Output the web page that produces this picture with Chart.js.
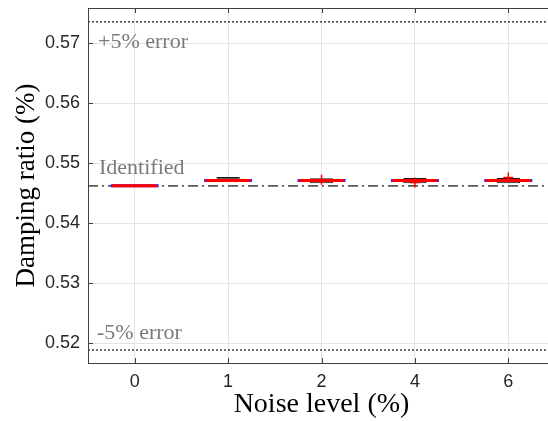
<!DOCTYPE html>
<html>
<head>
<meta charset="utf-8">
<script src="https://cdn.jsdelivr.net/npm/chart.js@4/dist/chart.umd.min.js"></script>
<style>
html,body{margin:0;padding:0;overflow:hidden;background:#fff;}
canvas{display:block;}
</style>
</head>
<body>
<canvas id="c" width="558" height="421"></canvas>
<script>
// ---- data ----
const categories = ['0', '1', '2', '4', '6'];
const medians    = [0.54625, 0.54712, 0.54712, 0.54712, 0.54712];
const whiskerLow  = [null, 0.54705, 0.54667, 0.54667, 0.54667];
const whiskerHigh = [null, 0.54772, 0.54750, 0.54752, 0.54752];
const outliers = [
  {x: '2', y: 0.54725},
  {x: '4', y: 0.54678},
  {x: '6', y: 0.54762}
];
const identified = 0.54622;
const upperError = 0.57353;
const lowerError = 0.51891;
const yTicks = [0.52, 0.53, 0.54, 0.55, 0.56, 0.57];
const refLabels = ['+5% error', 'Identified', '-5% error'];
const xTitle = 'Noise level (%)';
const yTitle = 'Damping ratio (%)';

const whiskerRanges = whiskerLow.map((lo, i) => lo === null ? null : [lo, whiskerHigh[i]]);
const refLine = v => [{x: 0, y: v}, {x: 1, y: v}];

const framePlugin = {
  id: 'frame',
  afterDatasetsDraw(chart) {
    const {ctx, chartArea: a, scales: {x, y}} = chart;
    ctx.save();
    ctx.strokeStyle = '#404040';
    ctx.lineWidth = 1;
    ctx.strokeRect(a.left + 0.5, a.top + 0.5, a.right - a.left, a.bottom - a.top);
    const seg = (x1, y1, x2, y2) => { ctx.beginPath(); ctx.moveTo(x1, y1); ctx.lineTo(x2, y2); ctx.stroke(); };
    y.ticks.forEach((t, i) => {
      const py = Math.round(y.getPixelForTick(i)) + 0.5;
      seg(a.left, py, a.left + 5, py);
      seg(a.right, py, a.right - 5, py);
    });
    x.ticks.forEach((t, i) => {
      const px = Math.round(x.getPixelForTick(i)) + 0.5;
      seg(px, a.bottom, px, a.bottom - 5);
      seg(px, a.top, px, a.top + 5);
    });
    ctx.font = '22px "Liberation Serif"';
    ctx.fillStyle = '#7a7a7a';
    ctx.textAlign = 'left';
    ctx.textBaseline = 'alphabetic';
    ctx.fillText(refLabels[0], a.left + 10, y.getPixelForValue(upperError) + 26);
    ctx.fillText(refLabels[1], a.left + 11, y.getPixelForValue(identified) - 12);
    ctx.fillText(refLabels[2], a.left + 9, y.getPixelForValue(lowerError) - 11);
    ctx.restore();
  }
};

new Chart(document.getElementById('c'), {
  type: 'bar',
  data: {
    labels: categories,
    datasets: [
      {
        type: 'line', label: '+5%', xAxisID: 'x2', data: refLine(upperError),
        borderColor: '#404040', borderWidth: 1.5, borderDash: [2, 2], pointRadius: 0, order: 10
      },
      {
        type: 'line', label: '-5%', xAxisID: 'x2', data: refLine(lowerError),
        borderColor: '#404040', borderWidth: 1.5, borderDash: [2, 2], pointRadius: 0, order: 10
      },
      {
        type: 'line', label: 'Identified', xAxisID: 'x2', data: refLine(identified),
        borderColor: '#5a5a5a', borderWidth: 1.6, borderDash: [10, 4, 2, 4], pointRadius: 0, order: 10
      },
      {
        type: 'bar', label: 'whiskers', data: whiskerRanges, grouped: false,
        backgroundColor: '#5c5c5c', borderColor: '#1a1a1a', borderWidth: 1,
        barPercentage: 0.25, categoryPercentage: 1, borderSkipped: false, order: 6
      },
      {
        type: 'line', label: 'box', data: medians, showLine: false,
        pointStyle: 'line', pointRadius: 24, pointBorderColor: '#2a2aff', pointBorderWidth: 3, order: 4
      },
      {
        type: 'line', label: 'median', data: medians, showLine: false,
        pointStyle: 'line', pointRadius: 22.5, pointBorderColor: '#ff0000', pointBorderWidth: 3, order: 3
      },
      {
        type: 'line', label: 'outliers', data: outliers, showLine: false,
        pointStyle: 'cross', pointRadius: 5, pointBorderColor: '#ff0000', pointBorderWidth: 1.5, order: 1
      }
    ]
  },
  options: {
    responsive: false,
    animation: false,
    layout: {autoPadding: false, padding: {top: 8, right: 3, left: 0, bottom: 0}},
    plugins: {legend: {display: false}, tooltip: {enabled: false}},
    scales: {
      x: {
        type: 'category', offset: true,
        grid: {offset: false, color: '#e3e3e3', drawTicks: false},
        border: {display: false},
        ticks: {color: '#262626', font: {family: 'Liberation Sans', size: 18}, padding: 8},
        title: {display: true, text: xTitle, color: '#000', font: {family: 'Liberation Serif', size: 28}, padding: {top: 0, bottom: 0}},
        afterFit(s) { s.height = 58; s.paddingLeft = 0; s.paddingRight = 0; }
      },
      x2: {type: 'linear', min: 0, max: 1, display: false, offset: false},
      y: {
        min: 0.51675, max: 0.57583,
        grid: {color: '#e3e3e3', drawTicks: false},
        border: {display: false},
        afterBuildTicks(s) { s.ticks = yTicks.map(v => ({value: v})); },
        ticks: {color: '#262626', font: {family: 'Liberation Sans', size: 18}, padding: 8,
                callback: v => Number(v).toFixed(2)},
        title: {display: true, text: yTitle, color: '#000', font: {family: 'Liberation Serif', size: 27}, padding: {top: 11, bottom: 0}},
        afterFit(s) { s.width = 88; s.paddingTop = 0; s.paddingBottom = 0; }
      }
    }
  },
  plugins: [framePlugin]
});
</script>
</body>
</html>
